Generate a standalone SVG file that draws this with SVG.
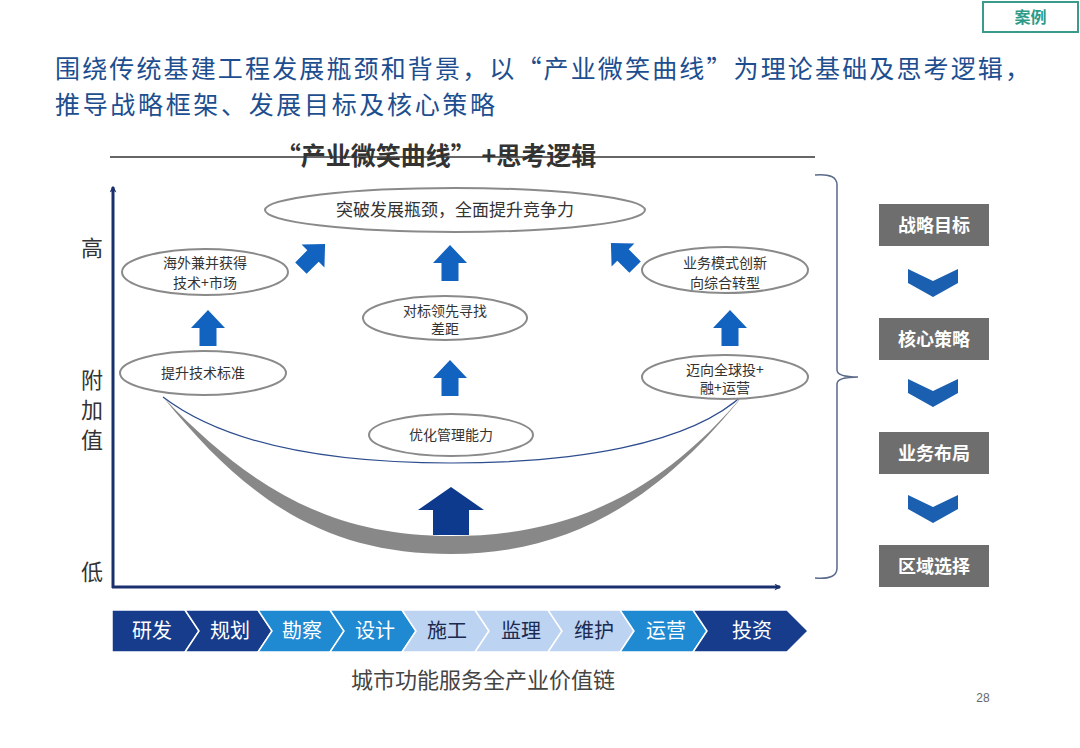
<svg xmlns="http://www.w3.org/2000/svg" xmlns:xlink="http://www.w3.org/1999/xlink" width="1080" height="748" viewBox="0 0 1080 748">
<style>
.cjk{font-family:"Noto Sans CJK SC","Noto Sans",sans-serif}
.el{fill:#fff;stroke:#8a8a8a;stroke-width:2}
.et{font-size:14px;fill:#333;text-anchor:middle}
.ax{font-size:22px;fill:#333;text-anchor:middle}
.box{fill:#6e6e6e}
.bt{font-size:18px;font-weight:bold;fill:#fff;text-anchor:middle}
.chev{fill:#1a5fb0}
.vc{font-size:20px;text-anchor:middle}
.dark{fill:#173c8c;stroke:#fff;stroke-width:1.5}
.mid{fill:#1f8ad2;stroke:#fff;stroke-width:1.5}
.light{fill:#bcd3f2;stroke:#fff;stroke-width:1.5}
</style>
<defs>
<marker id="axh" viewBox="0 0 10 10" refX="8" refY="5" markerWidth="7" markerHeight="7" orient="auto" markerUnits="userSpaceOnUse">
<path d="M0,0 L10,5 L0,10 L3,5 Z" fill="#1a2f6e"/>
</marker>
<path id="upA" d="M0,-18 L17,0 L8.5,0 L8.5,18 L-8.5,18 L-8.5,0 L-17,0 Z" fill="#1262c0"/>
<path id="chv" d="M-25,-14 L0,-2 L25,-14 L25,0 L0,14 L-25,0 Z"/>
</defs>
<rect width="1080" height="748" fill="#fff"/>

<g id="tag">
<rect x="983" y="2" width="95" height="30" fill="#fff" stroke="#3a9a8c" stroke-width="2"/>
<text x="1030.5" y="23" class="cjk" font-size="16" font-weight="bold" fill="#2e9a88" text-anchor="middle">案例</text>
</g>

<g id="title" class="cjk" font-size="25" fill="#1d4e8f">
<text x="55" y="77.5" textLength="975" lengthAdjust="spacing">围绕传统基建工程发展瓶颈和背景，以“产业微笑曲线”为理论基础及思考逻辑，</text>
<text x="55" y="114" textLength="440" lengthAdjust="spacing">推导战略框架、发展目标及核心策略</text>
</g>

<g id="subtitle">
<text x="436" y="165" class="cjk" font-size="25" font-weight="bold" fill="#333" text-anchor="middle">“产业微笑曲线” +思考逻辑</text>
<line x1="110" y1="157" x2="815" y2="157" stroke="#333" stroke-width="1.5"/>
</g>

<g id="axes">
<line x1="113" y1="588" x2="113" y2="187" stroke="#1a2f6e" stroke-width="3" marker-end="url(#axh)"/>
<line x1="112" y1="587" x2="780" y2="587" stroke="#1a2f6e" stroke-width="3" marker-end="url(#axh)"/>
<g class="cjk">
<text x="92" y="256" class="ax">高</text>
<text x="92" y="388" class="ax">附</text>
<text x="92" y="418" class="ax">加</text>
<text x="92" y="448" class="ax">值</text>
<text x="92" y="580" class="ax">低</text>
</g>
</g>

<g id="curves">
<path d="M163,397 C250,505 330,554 451,554 C570,554 660,500 745,393 C660,494 570,536 451,536 C330,536 250,488 163,397 Z" fill="#888"/>
<path d="M163,397 C230,448 340,463 451,463 C570,463 690,446 745,393" fill="none" stroke="#2d4d8e" stroke-width="1.2"/>
</g>

<g id="connectors">
<use xlink:href="#upA" href="#upA" x="208" y="328"/>
<use xlink:href="#upA" href="#upA" x="450" y="263"/>
<use xlink:href="#upA" href="#upA" x="450" y="378"/>
<use xlink:href="#upA" href="#upA" x="730" y="328"/>
<use xlink:href="#upA" href="#upA" transform="translate(313,256) rotate(45) scale(0.95)"/>
<use xlink:href="#upA" href="#upA" transform="translate(623,255) rotate(-45) scale(0.95)"/>
<path d="M451,487 L484,510 L469,510 L469,535 L433,535 L433,510 L418,510 Z" fill="#0d3a8c"/>
</g>

<g id="n-top">
<ellipse cx="455" cy="210" rx="190" ry="22" class="el"/>
<text x="455" y="216" class="cjk et" style="font-size:17px">突破发展瓶颈，全面提升竞争力</text>
</g>
<g id="n-overseas">
<ellipse cx="205" cy="272" rx="83" ry="23" class="el"/>
<text x="205" y="268" class="cjk et">海外兼并获得</text>
<text x="205" y="288" class="cjk et">技术+市场</text>
</g>
<g id="n-standard">
<ellipse cx="203" cy="373" rx="83" ry="22" class="el"/>
<text x="203" y="378" class="cjk et">提升技术标准</text>
</g>
<g id="n-benchmark">
<ellipse cx="445" cy="318" rx="82" ry="22" class="el"/>
<text x="445" y="316" class="cjk et">对标领先寻找</text>
<text x="445" y="334" class="cjk et">差距</text>
</g>
<g id="n-manage">
<ellipse cx="451" cy="435" rx="82" ry="21" class="el"/>
<text x="451" y="440" class="cjk et">优化管理能力</text>
</g>
<g id="n-business">
<ellipse cx="725" cy="270" rx="83" ry="23" class="el"/>
<text x="725" y="268" class="cjk et">业务模式创新</text>
<text x="725" y="288" class="cjk et">向综合转型</text>
</g>
<g id="n-global">
<ellipse cx="725" cy="377" rx="83" ry="22" class="el"/>
<text x="725" y="375" class="cjk et">迈向全球投+</text>
<text x="725" y="393" class="cjk et">融+运营</text>
</g>

<g id="brace">
<path d="M815,175 Q837,173 837,185 L837,370 Q837,377 858,377 Q837,377 837,384 L837,568 Q837,580 815,578" fill="none" stroke="#5a6a8a" stroke-width="1.5"/>
</g>

<g id="r-goal"><rect x="879" y="204" width="110" height="42" class="box"/><text x="934" y="232" class="cjk bt">战略目标</text></g>
<g id="r-strategy"><rect x="879" y="318" width="110" height="42" class="box"/><text x="934" y="346" class="cjk bt">核心策略</text></g>
<g id="r-layout"><rect x="879" y="432" width="110" height="42" class="box"/><text x="934" y="460" class="cjk bt">业务布局</text></g>
<g id="r-region"><rect x="879" y="545" width="110" height="42" class="box"/><text x="934" y="573" class="cjk bt">区域选择</text></g>
<g id="r-chevrons" class="chev">
<use xlink:href="#chv" href="#chv" x="933" y="283"/>
<use xlink:href="#chv" href="#chv" x="933" y="393"/>
<use xlink:href="#chv" href="#chv" x="933" y="509"/>
</g>

<g id="valuechain" class="cjk">
<g id="v1"><path d="M112,610 L185,610 L199,631 L185,652 L112,652 Z" class="dark"/><text x="152" y="638" class="vc" fill="#fff">研发</text></g>
<g id="v2"><path d="M185,610 L258,610 L272,631 L258,652 L185,652 L199,631 Z" class="dark"/><text x="230" y="638" class="vc" fill="#fff">规划</text></g>
<g id="v3"><path d="M258,610 L330,610 L344,631 L330,652 L258,652 L272,631 Z" class="mid"/><text x="302" y="638" class="vc" fill="#fff">勘察</text></g>
<g id="v4"><path d="M330,610 L402,610 L416,631 L402,652 L330,652 L344,631 Z" class="mid"/><text x="375" y="638" class="vc" fill="#fff">设计</text></g>
<g id="v5"><path d="M402,610 L475,610 L489,631 L475,652 L402,652 L416,631 Z" class="light"/><text x="447" y="638" class="vc" fill="#1a2a50">施工</text></g>
<g id="v6"><path d="M475,610 L548,610 L562,631 L548,652 L475,652 L489,631 Z" class="light"/><text x="521" y="638" class="vc" fill="#1a2a50">监理</text></g>
<g id="v7"><path d="M548,610 L620,610 L634,631 L620,652 L548,652 L562,631 Z" class="light"/><text x="594" y="638" class="vc" fill="#1a2a50">维护</text></g>
<g id="v8"><path d="M620,610 L693,610 L707,631 L693,652 L620,652 L634,631 Z" class="mid"/><text x="666" y="638" class="vc" fill="#fff">运营</text></g>
<g id="v9"><path d="M693,610 L787,610 L808,631 L787,652 L693,652 L707,631 Z" class="dark"/><text x="752" y="638" class="vc" fill="#fff">投资</text></g>
<text x="483" y="688" font-size="22" fill="#444" text-anchor="middle">城市功能服务全产业价值链</text>
</g>

<text x="983" y="702" font-family="Liberation Sans, sans-serif" font-size="12" fill="#666" text-anchor="middle">28</text>
</svg>
